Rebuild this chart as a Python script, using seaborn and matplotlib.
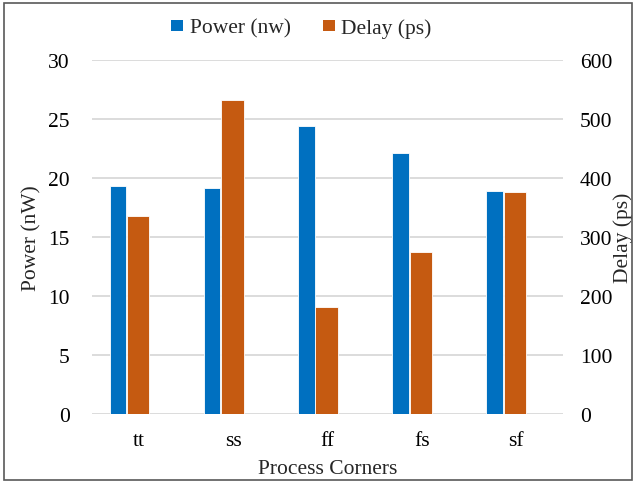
import numpy as np
import pandas as pd
import matplotlib
matplotlib.use("Agg")
import matplotlib.pyplot as plt
from matplotlib.patches import Rectangle, Patch
import seaborn as sns

corners = ["tt", "ss", "ff", "fs", "sf"]
power_nw = [19.3, 19.2, 24.4, 22.1, 18.9]
delay_ps = [336, 532, 182, 275, 377]
power_ticks = [0, 5, 10, 15, 20, 25, 30]
delay_ticks = [0, 100, 200, 300, 400, 500, 600]

BLUE = "#0070C0"
ORANGE = "#C55A11"
GRID = "#D9D9D9"
FS = 15.5

sns.set_theme(style="white")
plt.rcParams["font.family"] = ["Liberation Serif", "DejaVu Serif"]
plt.rcParams["font.size"] = FS

idx = np.arange(len(corners))
df = pd.DataFrame({
    "corner": corners,
    "power": power_nw,
    "delay": delay_ps,
    "xp": idx - 0.225,
    "xd": idx - 0.01,
})

fig = plt.figure(figsize=(6.36, 4.85), dpi=100)
ax = fig.add_axes([0.1447, 0.1443, 0.7406, 0.7297])
ax2 = ax.twinx()

sns.barplot(data=df, x="xp", y="power", ax=ax, native_scale=True,
            width=0.177, color=BLUE, saturation=1, edgecolor="white",
            linewidth=0.6, zorder=3)
sns.barplot(data=df, x="xd", y="delay", ax=ax2, native_scale=True,
            width=0.237, color=ORANGE, saturation=1, edgecolor="white",
            linewidth=0.6, zorder=3)

ax.set_xlim(-0.5, len(corners) - 0.5)
ax.set_ylim(0, 30)
ax2.set_ylim(0, 600)
ax.set_yticks(power_ticks)
ax2.set_yticks(delay_ticks)
ax.set_xticks(idx)
ax.set_xticklabels(corners)

ax.yaxis.grid(True, color=GRID, linewidth=1.3, zorder=0)
ax.set_axisbelow(True)
for a in (ax, ax2):
    for s in a.spines.values():
        s.set_visible(False)
    a.tick_params(length=0, labelsize=FS, colors="black")
ax.tick_params(axis="y", pad=16)
ax2.tick_params(axis="y", pad=12)
ax.tick_params(axis="x", pad=12)

ax.set_xlabel("Process Corners", fontsize=FS, labelpad=7)
ax.set_ylabel("Power (nW)", fontsize=FS, labelpad=5)
ax2.set_ylabel("Delay (ps)", fontsize=FS, labelpad=1)

handles = [Patch(facecolor=BLUE, edgecolor="none"),
           Patch(facecolor=ORANGE, edgecolor="none")]
fig.legend(handles, ["Power (nw)", "Delay (ps)"], loc="center",
           bbox_to_anchor=(0.474, 0.94), ncol=2, frameon=False,
           fontsize=FS, handlelength=0.55, handleheight=0.45,
           handletextpad=0.3, columnspacing=1.5)

fig.patches.append(Rectangle((0.006, 0.008), 0.987, 0.984,
                             transform=fig.transFigure, fill=False,
                             edgecolor="#595959", linewidth=1.2))

fig.savefig("out.png", dpi=100)
